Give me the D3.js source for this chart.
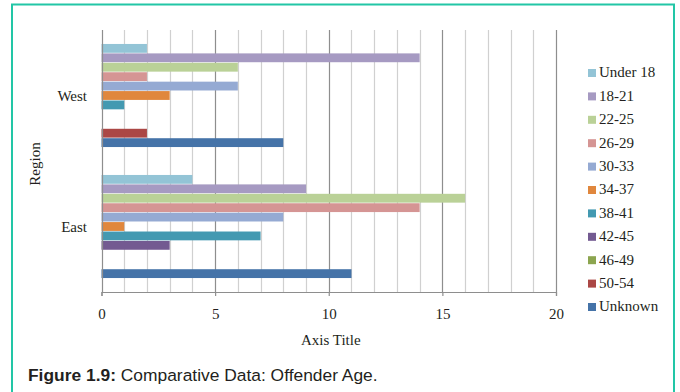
<!DOCTYPE html>
<html>
<head>
<meta charset="utf-8">
<script src="https://cdn.jsdelivr.net/npm/d3@7"></script>
<style>
  html, body { margin: 0; padding: 0; background: #fff; }
  svg { display: block; }
</style>
</head>
<body>
<svg id="chart" width="680" height="392"></svg>
<script>
// Regions on the vertical axis, top to bottom
const regions = ["West", "East"];
// Age groups (series), drawn top to bottom inside each region
const ageGroups = ["Under 18", "18-21", "22-25", "26-29", "30-33", "34-37",
                   "38-41", "42-45", "46-49", "50-54", "Unknown"];
// Offender counts per age group
const westValues = [2, 14, 6, 2, 6, 3, 1, 0, 0, 2, 8];
const eastValues = [4, 9, 16, 14, 8, 1, 7, 3, 0, 0, 11];
const seriesColors = ["#93c4d6", "#a69ac2", "#bad197", "#d59594", "#95aad3", "#e0873d",
                      "#4399b1", "#735a91", "#8ca54f", "#ab4745", "#4573a8"];
const xTicks = [0, 5, 10, 15, 20];

const valuesByRegion = { West: westValues, East: eastValues };

const svg = d3.select("#chart");
const ink = "#231f20";
const serif = "'Liberation Serif', 'Times New Roman', serif";

// Frame around the figure (open at the bottom edge of the page)
svg.append("path")
  .attr("d", "M12,400 L12,4.5 L674,4.5 L674,400")
  .attr("fill", "none")
  .attr("stroke", "#22c6a6")
  .attr("stroke-width", 2);

const plot = { left: 101.5, right: 556, top: 30, bottom: 292 };

const x = d3.scaleLinear().domain([0, 20]).range([plot.left, plot.right]);
const y = d3.scaleBand().domain(regions).range([plot.top, plot.bottom]).paddingInner(0).paddingOuter(0);
const ySeries = d3.scaleBand().domain(ageGroups).range([0, y.bandwidth()])
  .paddingInner(0).paddingOuter(1.45);
const color = d3.scaleOrdinal().domain(ageGroups).range(seriesColors);

// Vertical gridlines at every unit, darker at major ticks
const gridVals = d3.range(1, 21);
svg.append("g").selectAll("line").data(gridVals).join("line")
  .attr("x1", d => Math.round(x(d)) + 0.5)
  .attr("x2", d => Math.round(x(d)) + 0.5)
  .attr("y1", plot.top)
  .attr("y2", plot.bottom)
  .attr("stroke", d => d % 5 === 0 ? "#8e8e8e" : "#d0d0d0")
  .attr("stroke-width", 1.2);

// Bars
const groups = svg.append("g").selectAll("g").data(regions).join("g")
  .attr("transform", d => `translate(0,${y(d)})`);
groups.selectAll("rect")
  .data(r => ageGroups.map((g, i) => ({ group: g, value: valuesByRegion[r][i] })))
  .join("rect")
  .attr("x", x(0))
  .attr("y", d => ySeries(d.group) + 0.3)
  .attr("width", d => x(d.value) - x(0))
  .attr("height", ySeries.bandwidth() - 0.6)
  .attr("fill", d => color(d.group));

// Left axis line
svg.append("line")
  .attr("x1", Math.round(x(0)) + 0.5).attr("x2", Math.round(x(0)) + 0.5)
  .attr("y1", plot.top).attr("y2", plot.bottom)
  .attr("stroke", "#8e8e8e").attr("stroke-width", 1.2);

// Bottom value axis
const xAxis = d3.axisBottom(x).tickValues(xTicks).tickSize(4).tickPadding(12).tickFormat(d3.format("d"));
const xg = svg.append("g").attr("transform", `translate(0,${plot.bottom})`).call(xAxis);
xg.select(".domain").attr("stroke", "#8e8e8e").attr("stroke-width", 1.2);
xg.selectAll(".tick line").attr("stroke", "#8e8e8e").attr("stroke-width", 1.2);
xg.selectAll(".tick text")
  .attr("font-family", serif).attr("font-size", 15).attr("fill", ink);

// Category labels
svg.append("g").selectAll("text").data(regions).join("text")
  .attr("x", 87)
  .attr("y", d => y(d) + y.bandwidth() / 2 + 2)
  .attr("text-anchor", "end")
  .attr("dominant-baseline", "middle")
  .attr("font-family", serif).attr("font-size", 15).attr("fill", ink)
  .text(d => d);

// Axis titles
svg.append("text")
  .attr("x", (plot.left + plot.right) / 2 + 2)
  .attr("y", 345)
  .attr("text-anchor", "middle")
  .attr("font-family", serif).attr("font-size", 15).attr("fill", ink)
  .text("Axis Title");

svg.append("text")
  .attr("transform", "translate(40,164) rotate(-90)")
  .attr("text-anchor", "middle")
  .attr("font-family", serif).attr("font-size", 15).attr("fill", ink)
  .text("Region");

// Legend
const legend = svg.append("g").selectAll("g").data(ageGroups).join("g")
  .attr("transform", (d, i) => `translate(588,${73 + i * 23.4})`);
legend.append("rect")
  .attr("x", 0).attr("y", -4).attr("width", 8).attr("height", 8)
  .attr("fill", d => color(d));
legend.append("text")
  .attr("x", 11).attr("y", 1)
  .attr("dominant-baseline", "middle")
  .attr("font-family", serif).attr("font-size", 15).attr("fill", ink)
  .text(d => d);

// Caption
const caption = svg.append("text")
  .attr("x", 28).attr("y", 381)
  .attr("font-family", "'Liberation Sans', Arial, sans-serif")
  .attr("font-size", 17.4).attr("fill", ink);
caption.append("tspan").attr("font-weight", "bold").text("Figure 1.9:");
caption.append("tspan").text(" Comparative Data: Offender Age.");
</script>
</body>
</html>
